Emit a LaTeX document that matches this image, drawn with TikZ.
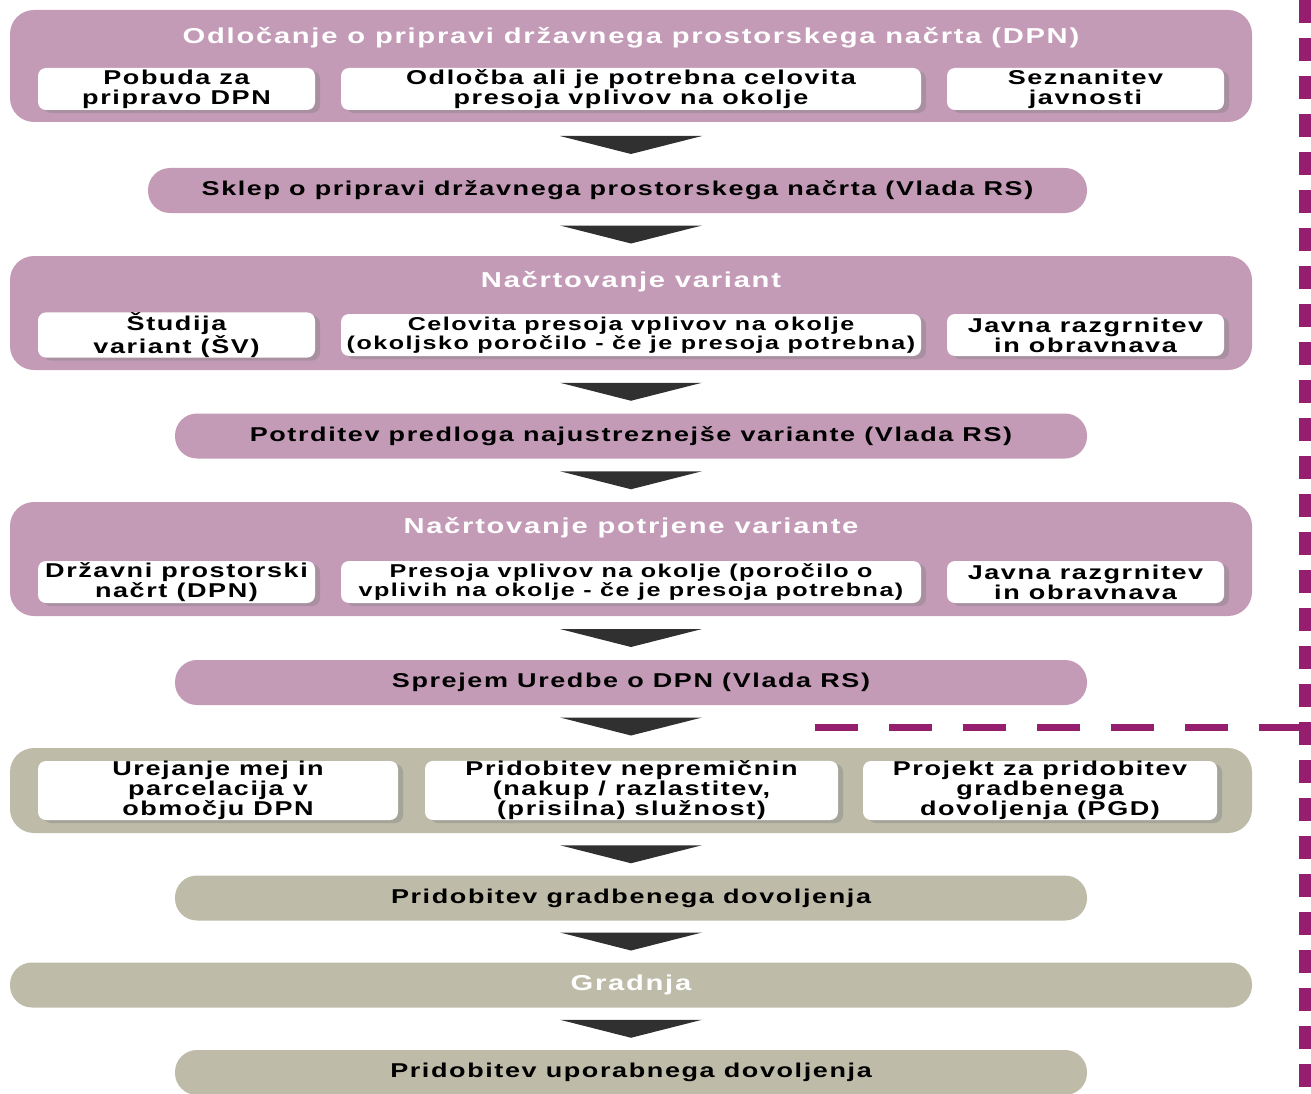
\documentclass[tikz,border=0pt]{standalone}
\usepackage{fontspec}
\setmainfont{Liberation Sans}[FakeStretch=1.35,LetterSpace=8]
\usetikzlibrary{calc,shadows}
\definecolor{mauve}{HTML}{C49BB7}
\definecolor{olive}{HTML}{BEBCA8}
\definecolor{plum}{HTML}{961E6E}
\definecolor{chevgray}{HTML}{303030}
\newcommand\stagefont{\fontsize{20}{20}\selectfont\bfseries}
\newcommand\tightstagefont{\fontsize{18.6}{19.5}\selectfont\bfseries}
\newcommand\paneltitlefont{\fontsize{21.6}{23}\selectfont\bfseries}
\newcommand\chev[2]{\fill[chevgray] ($(axis |- #1.south)!0.5!(axis |- #2.north)$) ++(-71,-9) -- ++(142,0) -- ++(-71,18) -- cycle;}
\begin{document}
\begin{tikzpicture}[x=1pt,y=-1pt,
  panel/.style={fill=#1,rounded corners=24pt,minimum width=1242pt,inner sep=0pt},
  sub/.style={fill=white,rounded corners=8pt,minimum height=42pt,inner sep=0pt,align=center,font=\stagefont,
    drop shadow={shadow xshift=5pt,shadow yshift=-3pt,opacity=0.4}},
  pill/.style={fill=#1,rounded corners=22pt,minimum height=45pt,inner sep=0pt,font=\stagefont},
  ttl/.style={text=white,font=\paneltitlefont,inner sep=0pt}]
\useasboundingbox (0,0) rectangle (1311,1094);
\coordinate (axis) at (631,0);
\node[panel=mauve,minimum height=112pt] (odl) at (631,66) {};
\node[ttl] (odlt) at (631,38) {Odločanje o pripravi državnega prostorskega načrta (DPN)};
\node[sub,minimum width=277pt] (pob) at (176.5,89) {Pobuda za\\pripravo DPN};
\node[sub,minimum width=580pt] (odb) at (631,89) {Odločba ali je potrebna celovita\\presoja vplivov na okolje};
\node[sub,minimum width=277pt] (sez) at (1085.5,89) {Seznanitev\\javnosti};
\node[pill=mauve,minimum width=939pt] (skl) at (617.5,190.5) {Sklep o pripravi državnega prostorskega načrta (Vlada RS)};
\node[panel=mauve,minimum height=114pt] (nav) at (631,313) {};
\node[ttl] (navt) at (631,282) {Načrtovanje variant};
\node[sub,minimum width=277pt] (stu) at (176.5,335) {Študija\\variant (ŠV)};
\node[sub,minimum width=580pt,font=\tightstagefont] (cel) at (631,335) {Celovita presoja vplivov na okolje\\(okoljsko poročilo - če je presoja potrebna)};
\node[sub,minimum width=277pt] (jr1) at (1085.5,335) {Javna razgrnitev\\in obravnava};
\node[pill=mauve,minimum width=912pt] (pot) at (631,436) {Potrditev predloga najustreznejše variante (Vlada RS)};
\node[panel=mauve,minimum height=114pt] (npv) at (631,559) {};
\node[ttl] (npvt) at (631,528) {Načrtovanje potrjene variante};
\node[sub,minimum width=277pt] (dpn) at (176.5,582) {Državni prostorski\\načrt (DPN)};
\node[sub,minimum width=580pt,font=\tightstagefont] (pvo) at (631,582) {Presoja vplivov na okolje (poročilo o\\vplivih na okolje - če je presoja potrebna)};
\node[sub,minimum width=277pt] (jr2) at (1085.5,582) {Javna razgrnitev\\in obravnava};
\node[pill=mauve,minimum width=912pt] (spr) at (631,682.5) {Sprejem Uredbe o DPN (Vlada RS)};
\node[panel=olive,minimum height=85pt] (izv) at (631,790.5) {};
\node[sub,minimum width=360pt,minimum height=59pt] (ure) at (218,790.5) {Urejanje mej in\\parcelacija v\\območju DPN};
\node[sub,minimum width=413pt,minimum height=59pt] (pne) at (631.5,790.5) {Pridobitev nepremičnin\\(nakup / razlastitev,\\(prisilna) služnost)};
\node[sub,minimum width=354pt,minimum height=59pt] (pgd) at (1040,790.5) {Projekt za pridobitev\\gradbenega\\dovoljenja (PGD)};
\node[pill=olive,minimum width=912pt] (gdo) at (631,898) {Pridobitev gradbenega dovoljenja};
\node[pill=olive,minimum width=1242pt,text=white,font=\paneltitlefont] (gra) at (631,985) {Gradnja};
\node[pill=olive,minimum width=912pt] (udo) at (631,1072.5) {Pridobitev uporabnega dovoljenja};
\chev{odl}{skl}
\chev{skl}{nav}
\chev{nav}{pot}
\chev{pot}{npv}
\chev{npv}{spr}
\chev{spr}{izv}
\chev{izv}{gdo}
\chev{gdo}{gra}
\chev{gra}{udo}
\coordinate (mejaA) at (815,727);
\coordinate (mejaB) at (1305,727);
\coordinate (mejaT) at (1305,0);
\coordinate (mejaD) at (1305,1094);
\draw[plum,line width=7pt,dash pattern=on 43pt off 31pt] (mejaA) -- (mejaB);
\draw[plum,line width=12pt,dash pattern=on 23pt off 15pt] (mejaT) -- (mejaD);
\end{tikzpicture}
\end{document}
